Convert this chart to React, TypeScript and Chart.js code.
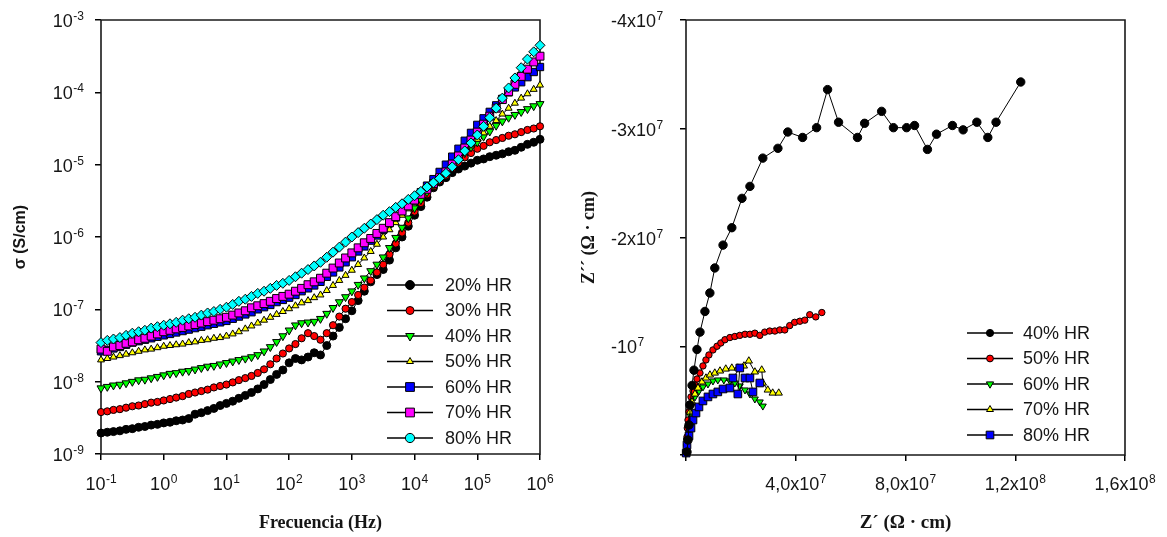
import React, { useEffect, useRef } from 'react';
import { Chart, registerables } from 'chart.js';

Chart.register(...registerables);

// ---------------- LEFT PANEL DATA: conductivity vs frequency ----------------
const FREQ_HZ = [
  0.1, 0.126, 0.158, 0.2, 0.251, 0.316, 0.398, 0.501, 0.631, 0.794,
  1, 1.26, 1.58, 2, 2.51, 3.16, 3.98, 5.01, 6.31, 7.94,
  10, 12.6, 15.8, 20, 25.1, 31.6, 39.8, 50.1, 63.1, 79.4,
  100, 126, 158, 200, 251, 316, 398, 501, 631, 794,
  1000, 1260, 1580, 2000, 2510, 3160, 3980, 5010, 6310, 7940,
  1e4, 1.26e4, 1.58e4, 2e4, 2.51e4, 3.16e4, 3.98e4, 5.01e4, 6.31e4, 7.94e4,
  1e5, 1.26e5, 1.58e5, 2e5, 2.51e5, 3.16e5, 3.98e5, 5.01e5, 6.31e5, 7.94e5,
  1e6,
];

const SIGMA_20 = [
  1.95e-9, 2.0e-9, 2.04e-9, 2.09e-9, 2.19e-9, 2.24e-9, 2.34e-9, 2.4e-9, 2.51e-9, 2.57e-9,
  2.69e-9, 2.75e-9, 2.88e-9, 2.95e-9, 3.09e-9, 3.55e-9, 3.72e-9, 3.98e-9, 4.27e-9, 4.68e-9,
  5.01e-9, 5.37e-9, 5.89e-9, 6.46e-9, 7.08e-9, 7.94e-9, 9.12e-9, 1.07e-8, 1.26e-8, 1.45e-8,
  1.82e-8, 2.09e-8, 2.0e-8, 2.19e-8, 2.51e-8, 2.34e-8, 3.16e-8, 4.27e-8, 5.62e-8, 7.41e-8,
  9.55e-8, 1.32e-7, 1.78e-7, 2.4e-7, 3.02e-7, 3.55e-7, 4.79e-7, 7.08e-7, 1.0e-6, 1.41e-6,
  2.0e-6, 2.63e-6, 3.55e-6, 4.79e-6, 5.75e-6, 6.61e-6, 7.76e-6, 8.71e-6, 9.55e-6, 1.05e-5,
  1.15e-5, 1.2e-5, 1.29e-5, 1.35e-5, 1.41e-5, 1.51e-5, 1.58e-5, 1.74e-5, 1.91e-5, 2.04e-5,
  2.24e-5,
];
const SIGMA_30 = [
  3.8e-9, 3.89e-9, 4.07e-9, 4.17e-9, 4.37e-9, 4.57e-9, 4.68e-9, 4.9e-9, 5.13e-9, 5.25e-9,
  5.5e-9, 5.75e-9, 6.03e-9, 6.31e-9, 6.76e-9, 7.08e-9, 7.41e-9, 7.76e-9, 8.32e-9, 8.71e-9,
  9.12e-9, 9.77e-9, 1.05e-8, 1.12e-8, 1.2e-8, 1.32e-8, 1.48e-8, 1.74e-8, 2.09e-8, 2.45e-8,
  2.88e-8, 3.31e-8, 3.98e-8, 4.68e-8, 4.27e-8, 3.8e-8, 4.68e-8, 6.03e-8, 7.94e-8, 1.02e-7,
  1.26e-7, 1.58e-7, 2.0e-7, 2.51e-7, 3.24e-7, 4.17e-7, 5.75e-7, 8.13e-7, 1.15e-6, 1.58e-6,
  2.24e-6, 2.95e-6, 3.89e-6, 5.01e-6, 6.03e-6, 7.08e-6, 8.91e-6, 1.07e-5, 1.26e-5, 1.45e-5,
  1.66e-5, 1.82e-5, 2.04e-5, 2.19e-5, 2.34e-5, 2.51e-5, 2.63e-5, 2.82e-5, 3.02e-5, 3.16e-5,
  3.39e-5,
];
const SIGMA_40 = [
  8.13e-9, 8.51e-9, 8.91e-9, 9.12e-9, 9.55e-9, 1.0e-8, 1.05e-8, 1.07e-8, 1.12e-8, 1.17e-8,
  1.23e-8, 1.29e-8, 1.32e-8, 1.38e-8, 1.41e-8, 1.48e-8, 1.55e-8, 1.62e-8, 1.66e-8, 1.74e-8,
  1.82e-8, 1.91e-8, 2.0e-8, 2.09e-8, 2.19e-8, 2.34e-8, 2.63e-8, 3.02e-8, 3.55e-8, 4.27e-8,
  5.13e-8, 6.03e-8, 6.46e-8, 6.61e-8, 6.76e-8, 7.41e-8, 8.71e-8, 1.05e-7, 1.26e-7, 1.48e-7,
  1.78e-7, 2.19e-7, 2.69e-7, 3.39e-7, 4.17e-7, 5.25e-7, 7.08e-7, 9.77e-7, 1.35e-6, 1.82e-6,
  2.51e-6, 3.24e-6, 4.17e-6, 5.25e-6, 6.46e-6, 7.94e-6, 9.55e-6, 1.17e-5, 1.45e-5, 1.74e-5,
  2.04e-5, 2.45e-5, 2.88e-5, 3.47e-5, 3.98e-5, 4.47e-5, 4.9e-5, 5.37e-5, 5.89e-5, 6.46e-5,
  6.92e-5,
];
const SIGMA_50 = [
  2.0e-8, 2.09e-8, 2.19e-8, 2.29e-8, 2.4e-8, 2.51e-8, 2.63e-8, 2.75e-8, 2.82e-8, 2.95e-8,
  3.09e-8, 3.16e-8, 3.24e-8, 3.31e-8, 3.47e-8, 3.55e-8, 3.72e-8, 3.8e-8, 3.98e-8, 4.07e-8,
  4.27e-8, 4.57e-8, 4.9e-8, 5.37e-8, 5.89e-8, 6.46e-8, 7.08e-8, 7.76e-8, 8.51e-8, 9.33e-8,
  1.02e-7, 1.12e-7, 1.23e-7, 1.32e-7, 1.45e-7, 1.58e-7, 1.82e-7, 2.14e-7, 2.51e-7, 2.95e-7,
  3.47e-7, 4.17e-7, 5.13e-7, 6.31e-7, 7.94e-7, 1.0e-6, 1.26e-6, 1.58e-6, 2.0e-6, 2.45e-6,
  3.02e-6, 3.72e-6, 4.57e-6, 5.5e-6, 6.76e-6, 8.32e-6, 1.02e-5, 1.23e-5, 1.48e-5, 1.82e-5,
  2.24e-5, 2.75e-5, 3.39e-5, 4.07e-5, 5.01e-5, 6.03e-5, 7.08e-5, 8.32e-5, 9.55e-5, 1.1e-4,
  1.26e-4,
];
const SIGMA_60 = [
  2.63e-8, 2.75e-8, 2.88e-8, 3.02e-8, 3.24e-8, 3.47e-8, 3.63e-8, 3.8e-8, 3.98e-8, 4.17e-8,
  4.37e-8, 4.57e-8, 4.79e-8, 5.01e-8, 5.25e-8, 5.5e-8, 5.75e-8, 6.03e-8, 6.31e-8, 6.61e-8,
  6.92e-8, 7.41e-8, 7.94e-8, 8.51e-8, 9.12e-8, 1.0e-7, 1.07e-7, 1.15e-7, 1.26e-7, 1.35e-7,
  1.45e-7, 1.58e-7, 1.78e-7, 1.95e-7, 2.14e-7, 2.4e-7, 2.82e-7, 3.24e-7, 3.8e-7, 4.47e-7,
  5.25e-7, 6.31e-7, 7.41e-7, 8.91e-7, 1.05e-6, 1.26e-6, 1.55e-6, 1.86e-6, 2.29e-6, 2.75e-6,
  3.39e-6, 4.17e-6, 5.13e-6, 6.31e-6, 7.94e-6, 1.0e-5, 1.29e-5, 1.66e-5, 2.14e-5, 2.75e-5,
  3.55e-5, 4.37e-5, 5.37e-5, 6.61e-5, 8.13e-5, 1.0e-4, 1.17e-4, 1.38e-4, 1.62e-4, 1.91e-4,
  2.24e-4,
];
const SIGMA_70 = [
  2.82e-8, 2.63e-8, 3.02e-8, 3.16e-8, 3.39e-8, 3.55e-8, 3.8e-8, 3.98e-8, 4.27e-8, 4.57e-8,
  4.9e-8, 5.13e-8, 5.37e-8, 5.62e-8, 5.89e-8, 6.17e-8, 6.46e-8, 6.76e-8, 7.08e-8, 7.41e-8,
  7.76e-8, 8.32e-8, 8.91e-8, 9.55e-8, 1.05e-7, 1.12e-7, 1.2e-7, 1.29e-7, 1.41e-7, 1.51e-7,
  1.62e-7, 1.78e-7, 1.95e-7, 2.19e-7, 2.4e-7, 2.69e-7, 3.16e-7, 3.72e-7, 4.37e-7, 5.13e-7,
  6.03e-7, 7.08e-7, 8.32e-7, 9.55e-7, 1.12e-6, 1.32e-6, 1.58e-6, 1.91e-6, 2.29e-6, 2.69e-6,
  3.24e-6, 3.89e-6, 4.57e-6, 5.5e-6, 6.61e-6, 7.94e-6, 1.02e-5, 1.32e-5, 1.7e-5, 2.19e-5,
  2.82e-5, 3.63e-5, 4.68e-5, 6.03e-5, 7.94e-5, 1.02e-4, 1.29e-4, 1.66e-4, 2.09e-4, 2.63e-4,
  3.16e-4,
];
const SIGMA_80 = [
  3.47e-8, 3.72e-8, 3.89e-8, 4.07e-8, 4.37e-8, 4.68e-8, 4.9e-8, 5.13e-8, 5.5e-8, 5.75e-8,
  6.03e-8, 6.31e-8, 6.61e-8, 7.08e-8, 7.41e-8, 7.76e-8, 8.32e-8, 8.91e-8, 9.33e-8, 1.0e-7,
  1.07e-7, 1.17e-7, 1.29e-7, 1.38e-7, 1.51e-7, 1.66e-7, 1.78e-7, 1.95e-7, 2.14e-7, 2.29e-7,
  2.51e-7, 2.82e-7, 3.16e-7, 3.55e-7, 3.98e-7, 4.47e-7, 5.25e-7, 6.17e-7, 7.24e-7, 8.51e-7,
  1.0e-6, 1.15e-6, 1.32e-6, 1.51e-6, 1.74e-6, 2.0e-6, 2.24e-6, 2.57e-6, 2.88e-6, 3.31e-6,
  3.72e-6, 4.27e-6, 4.9e-6, 5.62e-6, 6.46e-6, 7.59e-6, 9.33e-6, 1.17e-5, 1.55e-5, 2.0e-5,
  2.57e-5, 3.39e-5, 4.47e-5, 6.03e-5, 8.32e-5, 1.15e-4, 1.58e-4, 2.19e-4, 2.88e-4, 3.63e-4,
  4.47e-4,
];

const LEFT_LABELS = ['20% HR', '30% HR', '40% HR', '50% HR', '60% HR', '70% HR', '80% HR'];
const FREQ_TICKS = [0.1, 1, 10, 100, 1000, 1e4, 1e5, 1e6];
const FREQ_TICK_LABELS: [string, string][] = [
  ['10', '-1'], ['10', '0'], ['10', '1'], ['10', '2'], ['10', '3'], ['10', '4'], ['10', '5'], ['10', '6'],
];
const SIGMA_TICKS = [1e-9, 1e-8, 1e-7, 1e-6, 1e-5, 1e-4, 1e-3];
const SIGMA_TICK_LABELS: [string, string][] = [
  ['10', '-9'], ['10', '-8'], ['10', '-7'], ['10', '-6'], ['10', '-5'], ['10', '-4'], ['10', '-3'],
];

// ---------------- RIGHT PANEL DATA: Nyquist ----------------
const ZRE_40 = [3.6e5, 7.3e5, 1.1e6, 1.45e6, 2.2e6, 2.9e6, 4.0e6, 5.1e6, 6.9e6, 8.7e6, 1.05e7, 1.35e7, 1.67e7, 2.04e7, 2.33e7, 2.8e7, 3.35e7, 3.71e7, 4.25e7, 4.76e7, 5.16e7, 5.56e7, 6.25e7, 6.51e7, 7.13e7, 7.56e7, 8.04e7, 8.33e7, 8.8e7, 9.13e7, 9.71e7, 1.01e8, 1.06e8, 1.1e8, 1.13e8, 1.22e8];
const ZIM_40 = [-2.8e5, -1.38e6, -2.76e6, -4.6e6, -6.4e6, -7.8e6, -9.7e6, -1.13e7, -1.32e7, -1.49e7, -1.72e7, -1.93e7, -2.09e7, -2.36e7, -2.47e7, -2.73e7, -2.82e7, -2.97e7, -2.92e7, -3.01e7, -3.36e7, -3.06e7, -2.92e7, -3.05e7, -3.16e7, -3.01e7, -3.01e7, -3.03e7, -2.81e7, -2.95e7, -3.03e7, -2.99e7, -3.06e7, -2.92e7, -3.06e7, -3.43e7];

const ZRE_50 = [1.1e5, 1.8e5, 3.6e5, 4.7e5, 7.3e5, 1.09e6, 1.45e6, 1.82e6, 2.55e6, 3.27e6, 4.0e6, 5.09e6, 6.18e6, 7.27e6, 8.36e6, 9.82e6, 1.13e7, 1.27e7, 1.42e7, 1.6e7, 1.78e7, 1.96e7, 2.15e7, 2.33e7, 2.51e7, 2.69e7, 2.87e7, 3.05e7, 3.24e7, 3.42e7, 3.6e7, 3.78e7, 3.96e7, 4.15e7, 4.33e7, 4.51e7, 4.73e7, 4.95e7];
const ZIM_50 = [-2.8e5, -9.2e5, -1.66e6, -2.48e6, -3.22e6, -3.96e6, -4.69e6, -5.34e6, -5.89e6, -6.44e6, -6.99e6, -7.54e6, -8.19e6, -8.74e6, -9.2e6, -9.66e6, -1.0e7, -1.03e7, -1.06e7, -1.08e7, -1.09e7, -1.1e7, -1.11e7, -1.11e7, -1.12e7, -1.1e7, -1.13e7, -1.14e7, -1.14e7, -1.15e7, -1.15e7, -1.19e7, -1.22e7, -1.23e7, -1.24e7, -1.29e7, -1.27e7, -1.31e7];

const ZRE_60 = [7e4, 3.6e5, 7.3e5, 1.45e6, 2.18e6, 3.27e6, 4.73e6, 6.18e6, 8.0e6, 9.82e6, 1.16e7, 1.38e7, 1.6e7, 1.78e7, 1.96e7, 2.15e7, 2.33e7, 2.51e7, 2.69e7, 2.8e7];
const ZIM_60 = [-1.8e5, -1.38e6, -2.48e6, -3.68e6, -4.6e6, -5.34e6, -5.89e6, -6.26e6, -6.53e6, -6.81e6, -6.9e6, -6.9e6, -6.81e6, -6.62e6, -6.35e6, -5.98e6, -5.61e6, -5.15e6, -4.88e6, -4.5e6];

const ZRE_70 = [1e5, 3.6e5, 7.3e5, 1.45e6, 2.18e6, 3.27e6, 4.36e6, 5.82e6, 7.27e6, 8.73e6, 1.05e7, 1.24e7, 1.45e7, 1.67e7, 1.89e7, 2.11e7, 2.29e7, 2.51e7, 2.76e7, 2.8e7, 2.98e7, 3.16e7, 3.38e7];
const ZIM_70 = [-2.8e5, -1.56e6, -2.76e6, -3.96e6, -4.88e6, -5.61e6, -6.16e6, -6.72e6, -7.08e6, -7.36e6, -7.54e6, -7.73e6, -7.91e6, -8.0e6, -8.0e6, -8.19e6, -8.65e6, -7.64e6, -7.82e6, -6.62e6, -5.98e6, -5.7e6, -5.7e6];

const ZRE_80 = [7e4, 3.6e5, 1.09e6, 1.82e6, 2.55e6, 3.64e6, 4.73e6, 6.18e6, 8.0e6, 9.82e6, 1.16e7, 1.35e7, 1.6e7, 1.71e7, 1.96e7, 1.89e7, 2.15e7, 2.33e7, 2.44e7, 2.69e7];
const ZIM_80 = [-1.8e5, -9.2e5, -1.75e6, -2.48e6, -3.22e6, -3.86e6, -4.42e6, -4.97e6, -5.34e6, -5.61e6, -5.8e6, -6.07e6, -6.16e6, -7.08e6, -8.0e6, -5.61e6, -7.08e6, -7.08e6, -5.8e6, -6.62e6];

const RIGHT_LABELS = ['40% HR', '50% HR', '60% HR', '70% HR', '80% HR'];
const ZRE_TICKS = [0, 4e7, 8e7, 1.2e8, 1.6e8];
const ZRE_TICK_LABELS: [string, string][] = [['', ''], ['4,0x10', '7'], ['8,0x10', '7'], ['1,2x10', '8'], ['1,6x10', '8']];
const ZIM_TICKS = [0, -1e7, -2e7, -3e7, -4e7];
const ZIM_TICK_LABELS: [string, string][] = [['', ''], ['-10', '7'], ['-2x10', '7'], ['-3x10', '7'], ['-4x10', '7']];

// ---------------- styling ----------------
const SANS = '"Liberation Sans", Arial, sans-serif';
const SERIF = '"Liberation Serif", "Times New Roman", serif';
const TXT = '#151515';

type Mk = { color: string; style: string; rot: number; r: number; lr: number; lstyle: string };
const LEFT_STYLE: Mk[] = [
  { color: '#000000', style: 'circle', rot: 0, r: 4, lr: 4.5, lstyle: 'circle' },
  { color: '#ff0000', style: 'circle', rot: 0, r: 3.6, lr: 4, lstyle: 'circle' },
  { color: '#00ff00', style: 'triangle', rot: 180, r: 4.6, lr: 5, lstyle: 'triangleDown' },
  { color: '#ffff00', style: 'triangle', rot: 0, r: 4, lr: 4, lstyle: 'triangle' },
  { color: '#0000ff', style: 'rect', rot: 0, r: 5.2, lr: 6.2, lstyle: 'rect' },
  { color: '#ff00ff', style: 'rect', rot: 0, r: 5.6, lr: 6.2, lstyle: 'rect' },
  { color: '#00ffff', style: 'rectRot', rot: 0, r: 5, lr: 4.6, lstyle: 'circle' },
];
const RIGHT_STYLE: Mk[] = [
  { color: '#000000', style: 'circle', rot: 0, r: 4.2, lr: 3.6, lstyle: 'circle' },
  { color: '#ff0000', style: 'circle', rot: 0, r: 3.2, lr: 3.4, lstyle: 'circle' },
  { color: '#00ff00', style: 'triangle', rot: 180, r: 4, lr: 4.2, lstyle: 'triangleDown' },
  { color: '#ffff00', style: 'triangle', rot: 0, r: 4.2, lr: 4, lstyle: 'triangle' },
  { color: '#0000ff', style: 'rect', rot: 0, r: 5.4, lr: 5.4, lstyle: 'rect' },
];
const RIGHT_ORDER = [0, 4, 3, 2, 1];

function drawSup(ctx: CanvasRenderingContext2D, base: string, exp: string, x: number, baseline: number,
  align: 'left' | 'center' | 'right', size = 18, supSize = 12, raise = 7) {
  if (!base) return;
  ctx.save();
  ctx.fillStyle = TXT;
  ctx.textAlign = 'left';
  ctx.textBaseline = 'alphabetic';
  ctx.font = `${size}px ${SANS}`;
  const wb = ctx.measureText(base).width;
  ctx.font = `${supSize}px ${SANS}`;
  const we = exp ? ctx.measureText(exp).width : 0;
  const gap = exp ? 0.5 : 0;
  const total = wb + gap + we;
  const x0 = align === 'left' ? x : align === 'center' ? x - total / 2 : x - total;
  ctx.font = `${size}px ${SANS}`;
  ctx.fillText(base, x0, baseline);
  if (exp) {
    ctx.font = `${supSize}px ${SANS}`;
    ctx.fillText(exp, x0 + wb + gap, baseline - raise);
  }
  ctx.restore();
}

function drawMarker(ctx: CanvasRenderingContext2D, style: string, x: number, y: number, r: number, fill: string) {
  ctx.save();
  ctx.beginPath();
  if (style === 'circle') {
    ctx.arc(x, y, r, 0, Math.PI * 2);
  } else if (style === 'triangle') {
    ctx.moveTo(x, y - r);
    ctx.lineTo(x + r * 0.866, y + r * 0.5);
    ctx.lineTo(x - r * 0.866, y + r * 0.5);
    ctx.closePath();
  } else if (style === 'triangleDown') {
    ctx.moveTo(x, y + r);
    ctx.lineTo(x + r * 0.866, y - r * 0.5);
    ctx.lineTo(x - r * 0.866, y - r * 0.5);
    ctx.closePath();
  } else if (style === 'rect') {
    const s = r * Math.SQRT1_2;
    ctx.rect(x - s, y - s, 2 * s, 2 * s);
  } else {
    ctx.moveTo(x, y - r);
    ctx.lineTo(x + r, y);
    ctx.lineTo(x, y + r);
    ctx.lineTo(x - r, y);
    ctx.closePath();
  }
  ctx.fillStyle = fill;
  ctx.fill();
  ctx.lineWidth = 1;
  ctx.strokeStyle = '#000';
  ctx.stroke();
  ctx.restore();
}

function frame(chart: any) {
  const { ctx, chartArea } = chart;
  const { left, right, top, bottom } = chartArea;
  ctx.save();
  ctx.strokeStyle = '#1a1a1a';
  ctx.lineWidth = 1.6;
  ctx.beginPath();
  ctx.rect(left, top, right - left, bottom - top);
  ctx.stroke();
  ctx.restore();
}

function drawLegend(ctx: CanvasRenderingContext2D, labels: string[], styles: Mk[], lineX0: number, lineX1: number,
  markX: number, textX: number, y0: number, dy: number) {
  labels.forEach((lab, i) => {
    const y = y0 + i * dy;
    ctx.save();
    ctx.strokeStyle = '#000';
    ctx.lineWidth = 1.3;
    ctx.beginPath();
    ctx.moveTo(lineX0, y);
    ctx.lineTo(lineX1, y);
    ctx.stroke();
    ctx.restore();
    drawMarker(ctx, styles[i].lstyle, markX, y, styles[i].lr, styles[i].color);
    ctx.save();
    ctx.fillStyle = TXT;
    ctx.font = `18px ${SANS}`;
    ctx.textAlign = 'left';
    ctx.textBaseline = 'middle';
    ctx.fillText(lab, textX, y + 1);
    ctx.restore();
  });
}

function rotatedText(ctx: CanvasRenderingContext2D, text: string, x: number, y: number, font: string) {
  ctx.save();
  ctx.translate(x, y);
  ctx.rotate(-Math.PI / 2);
  ctx.fillStyle = TXT;
  ctx.font = font;
  ctx.textAlign = 'center';
  ctx.textBaseline = 'middle';
  ctx.fillText(text, 0, 0);
  ctx.restore();
}

const leftDecor = {
  id: 'leftDecor',
  beforeDatasetsDraw(chart: any) { frame(chart); },
  afterDraw(chart: any) {
    const { ctx, chartArea, scales } = chart;
    FREQ_TICKS.forEach((v, i) => {
      const px = scales.x.getPixelForValue(v);
      drawSup(ctx, FREQ_TICK_LABELS[i][0], FREQ_TICK_LABELS[i][1], px, chartArea.bottom + 36, 'center');
    });
    SIGMA_TICKS.forEach((v, i) => {
      const py = scales.y.getPixelForValue(v);
      drawSup(ctx, SIGMA_TICK_LABELS[i][0], SIGMA_TICK_LABELS[i][1], chartArea.left - 17, py + 7, 'right');
    });
    ctx.save();
    ctx.fillStyle = TXT;
    ctx.font = `bold 18px ${SERIF}`;
    ctx.textAlign = 'center';
    ctx.textBaseline = 'alphabetic';
    ctx.fillText('Frecuencia (Hz)', (chartArea.left + chartArea.right) / 2, 528);
    ctx.restore();
    rotatedText(ctx, 'σ (S/cm)', 21, (chartArea.top + chartArea.bottom) / 2, `bold 16px ${SANS}`);
    const L = chartArea.left;
    drawLegend(ctx, LEFT_LABELS, LEFT_STYLE, L + 286, L + 332, L + 309, L + 344, 285, 25.5);
  },
};

const rightDecor = {
  id: 'rightDecor',
  beforeDatasetsDraw(chart: any) { frame(chart); },
  afterDraw(chart: any) {
    const { ctx, chartArea, scales } = chart;
    ZRE_TICKS.forEach((v, i) => {
      const px = scales.x.getPixelForValue(v);
      drawSup(ctx, ZRE_TICK_LABELS[i][0], ZRE_TICK_LABELS[i][1], px, chartArea.bottom + 35, 'center');
    });
    ZIM_TICKS.forEach((v, i) => {
      const py = scales.y.getPixelForValue(v);
      drawSup(ctx, ZIM_TICK_LABELS[i][0], ZIM_TICK_LABELS[i][1], chartArea.left - 75, py + 7, 'left');
    });
    ctx.save();
    ctx.fillStyle = TXT;
    ctx.font = `bold 19px ${SERIF}`;
    ctx.textAlign = 'center';
    ctx.textBaseline = 'alphabetic';
    ctx.fillText('Z´ (Ω · cm)', (chartArea.left + chartArea.right) / 2, 528);
    ctx.restore();
    rotatedText(ctx, 'Z´´ (Ω · cm)', 19, (chartArea.top + chartArea.bottom) / 2, `bold 18px ${SERIF}`);
    const L = chartArea.left;
    drawLegend(ctx, RIGHT_LABELS, RIGHT_STYLE, L + 281, L + 327, L + 304, L + 337, 333, 25.5);
  },
};

function axisCommon(ticks: number[], fit: (s: any) => void) {
  return {
    afterBuildTicks: (s: any) => { s.ticks = ticks.map((v) => ({ value: v })); },
    afterFit: fit,
    ticks: { display: false },
    grid: { drawOnChartArea: false, drawTicks: true, tickLength: 6, color: '#000', lineWidth: 1.5 },
    border: { display: false },
    title: { display: false },
  };
}

export default function App() {
  const leftRef = useRef<HTMLCanvasElement | null>(null);
  const rightRef = useRef<HTMLCanvasElement | null>(null);

  useEffect(() => {
    const leftSeries = [SIGMA_20, SIGMA_30, SIGMA_40, SIGMA_50, SIGMA_60, SIGMA_70, SIGMA_80];
    const left = new Chart(leftRef.current as HTMLCanvasElement, {
      type: 'scatter',
      data: {
        datasets: leftSeries.map((vals, i) => ({
          label: LEFT_LABELS[i],
          data: FREQ_HZ.map((f, k) => ({ x: f, y: vals[k] })),
          showLine: true,
          borderColor: '#000',
          borderWidth: 1,
          pointBackgroundColor: LEFT_STYLE[i].color,
          pointBorderColor: '#000',
          pointBorderWidth: 1,
          pointRadius: LEFT_STYLE[i].r,
          pointStyle: LEFT_STYLE[i].style as any,
          pointRotation: LEFT_STYLE[i].rot,
          clip: false as any,
          order: 6 - i,
        })),
      },
      options: {
        animation: false,
        responsive: false,
        devicePixelRatio: 1,
        layout: { padding: { top: 20, right: 30, left: 0, bottom: 0 } },
        plugins: { legend: { display: false }, tooltip: { enabled: false } },
        scales: {
          x: { type: 'logarithmic', min: 0.1, max: 1e6, ...axisCommon(FREQ_TICKS, (s: any) => { s.height = 83; }) } as any,
          y: { type: 'logarithmic', min: 1e-9, max: 1e-3, ...axisCommon(SIGMA_TICKS, (s: any) => { s.width = 101; }) } as any,
        },
      },
      plugins: [leftDecor],
    });

    const rightRe = [ZRE_40, ZRE_50, ZRE_60, ZRE_70, ZRE_80];
    const rightIm = [ZIM_40, ZIM_50, ZIM_60, ZIM_70, ZIM_80];
    const right = new Chart(rightRef.current as HTMLCanvasElement, {
      type: 'scatter',
      data: {
        datasets: rightRe.map((re, i) => ({
          label: RIGHT_LABELS[i],
          data: re.map((x, k) => ({ x, y: rightIm[i][k] })),
          showLine: true,
          borderColor: '#000',
          borderWidth: 1,
          pointBackgroundColor: RIGHT_STYLE[i].color,
          pointBorderColor: '#000',
          pointBorderWidth: 1,
          pointRadius: RIGHT_STYLE[i].r,
          pointStyle: RIGHT_STYLE[i].style as any,
          pointRotation: RIGHT_STYLE[i].rot,
          clip: false as any,
          order: RIGHT_ORDER[i],
        })),
      },
      options: {
        animation: false,
        responsive: false,
        devicePixelRatio: 1,
        layout: { padding: { top: 20, right: 42, left: 0, bottom: 0 } },
        plugins: { legend: { display: false }, tooltip: { enabled: false } },
        scales: {
          x: { type: 'linear', min: 0, max: 1.6e8, ...axisCommon(ZRE_TICKS, (s: any) => { s.height = 82; }) } as any,
          y: { type: 'linear', min: -4e7, max: 0, reverse: true, ...axisCommon(ZIM_TICKS, (s: any) => { s.width = 116; }) } as any,
        },
      },
      plugins: [rightDecor],
    });

    return () => {
      left.destroy();
      right.destroy();
    };
  }, []);

  return (
    <div style={{ position: 'absolute', left: 0, top: 0, width: 1167, height: 537, background: '#fff' }}>
      <canvas ref={leftRef} width={570} height={537}
        style={{ position: 'absolute', left: 0, top: 0, width: 570, height: 537 }} />
      <canvas ref={rightRef} width={597} height={537}
        style={{ position: 'absolute', left: 570, top: 0, width: 597, height: 537 }} />
    </div>
  );
}
